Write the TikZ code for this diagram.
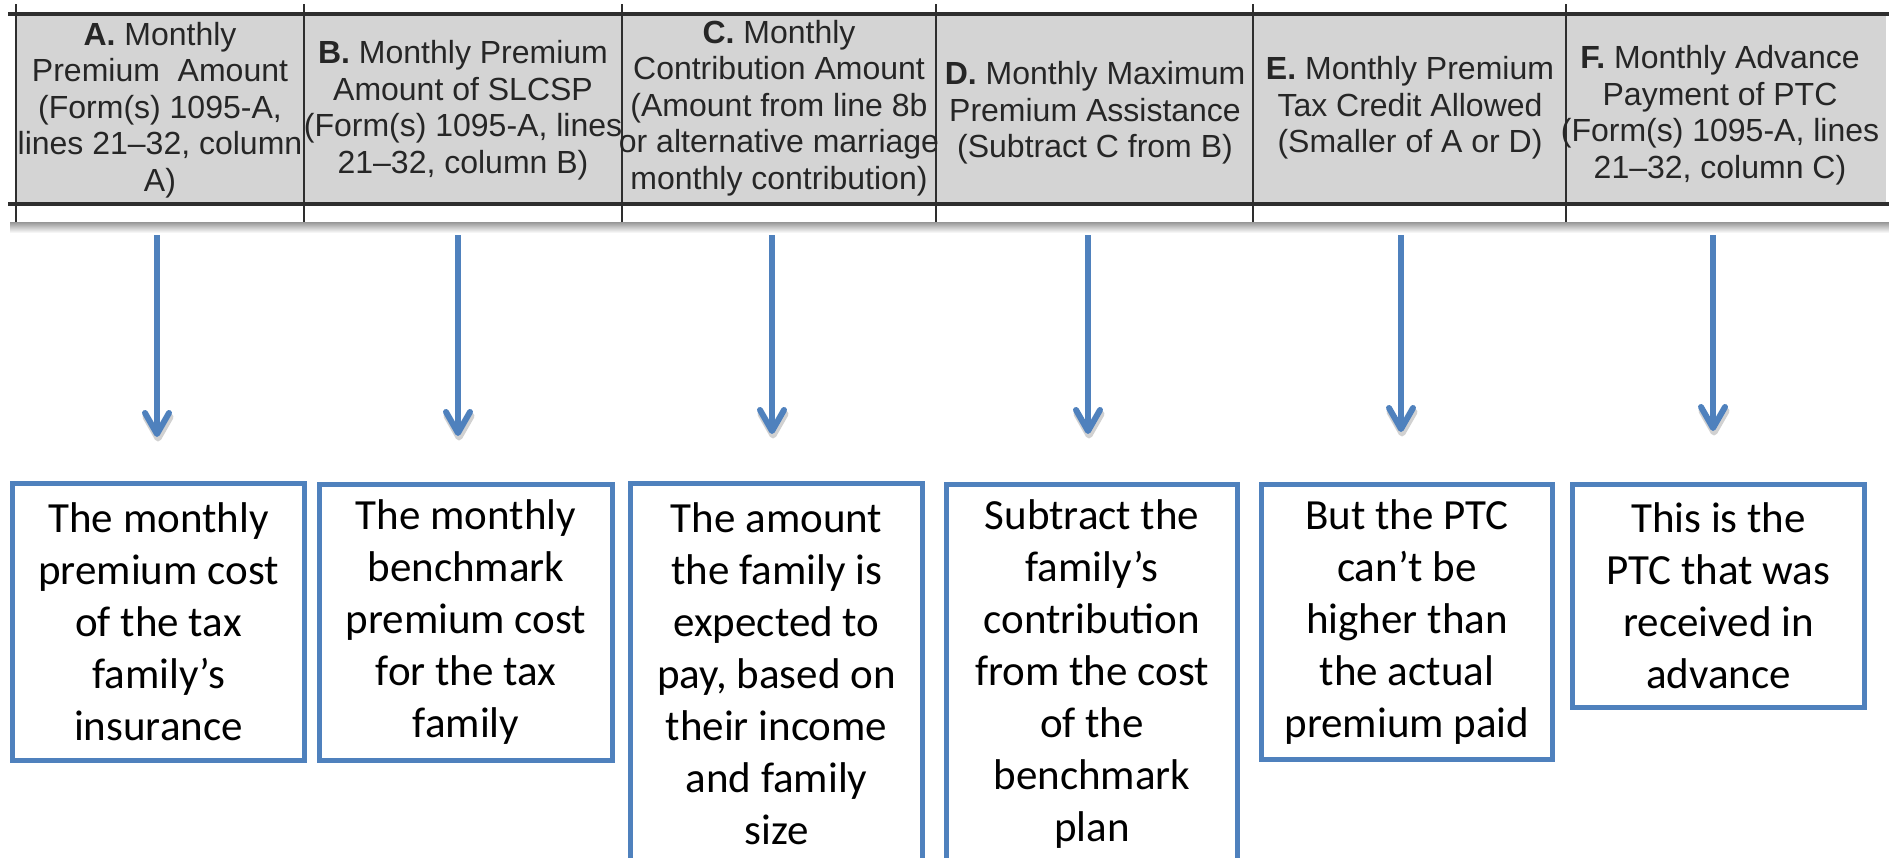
\documentclass[tikz,border=0pt]{standalone}
\usepackage{fontspec}
\setmainfont{Carlito}
\newfontfamily\hdrfont{Liberation Sans}
\usetikzlibrary{calc}
\definecolor{boxblue}{HTML}{4F81BD}
\definecolor{hdrgrey}{HTML}{D4D4D4}
\definecolor{hdrline}{HTML}{2E2E2E}
\definecolor{hdrtext}{HTML}{262626}
\begin{document}
\begin{tikzpicture}[x=1bp,y=-1bp,
  hdr/.style={font=\hdrfont\fontsize{32bp}{36.5bp}\selectfont, text=hdrtext, align=center, inner sep=0pt},
  tbox/.style={draw=boxblue, line width=5bp, fill=white, anchor=north west, align=center,
    font=\fontsize{43bp}{52bp}\selectfont, inner sep=0pt},
  arr/.style={draw=boxblue, line width=5.5bp},
  chev/.style={draw=boxblue, line width=6bp, line cap=round, line join=round},
  chevshadow/.style={draw=black, opacity=0.18, line width=7bp, line cap=round, line join=round}
]
\useasboundingbox (0,0) rectangle (1889,858);
\clip (0,0) rectangle (1889,858);
% table header (clipped form image)
\shade[top color=black!45, bottom color=white] (10,221) rectangle (1889,233);
\fill[white] (8,4) rectangle (1889,222);
\fill[hdrgrey] (16,15) rectangle (1886,204);
\draw[hdrline, line width=4bp] (8,14) -- (1889,14);
\draw[hdrline, line width=4bp] (8,204) -- (1889,204);
\foreach \x in {16,304,622,936,1253,1566}
  \draw[hdrline, line width=2.5bp] (\x,4) -- (\x,222);
\node[hdr] (hA) at (160,110) {\textbf{A.} Monthly\\Premium\ \ Amount\\(Form(s) 1095-A,\\lines 21–32, column\\A)};
\node[hdr] (hB) at (463,110) {\textbf{B.} Monthly Premium\\Amount of SLCSP\\(Form(s) 1095-A, lines\\21–32, column B)};
\node[hdr] (hC) at (779,108) {\textbf{C.} Monthly\\Contribution Amount\\(Amount from line 8b\\or alternative marriage\\monthly contribution)};
\node[hdr] (hD) at (1095,113) {\textbf{D.} Monthly Maximum\\Premium Assistance\\(Subtract C from B)};
\node[hdr] (hE) at (1410,108) {\textbf{E.} Monthly Premium\\Tax Credit Allowed\\(Smaller of A or D)};
\node[hdr] (hF) at (1720,115) {\textbf{F.} Monthly Advance\\Payment of PTC\\(Form(s) 1095-A, lines\\21–32, column C)};
% explanation boxes
\node[tbox, minimum width=292bp, minimum height=277bp] (bA) at (10,481)
  {The monthly\\premium cost\\of the tax\\family’s\\insurance};
\node[tbox, minimum width=293bp, minimum height=276bp] (bB) at (317,482)
  {The monthly\\benchmark\\premium cost\\for the tax\\family};
\node[tbox, minimum width=292bp, minimum height=380bp] (bC) at (628,481)
  {The amount\\the family is\\expected to\\pay, based on\\their income\\and family\\size};
\node[tbox, minimum width=291bp, minimum height=379bp] (bD) at (944,482)
  {Subtract the\\family’s\\contribution\\from the cost\\of the\\benchmark\\plan};
\node[tbox, minimum width=291bp, minimum height=275bp] (bE) at (1259,482)
  {But the PTC\\can’t be\\higher than\\the actual\\premium paid};
\node[tbox, minimum width=292bp, minimum height=223bp] (bF) at (1570,482)
  {This is the\\PTC that was\\received in\\advance};
% arrows
\coordinate (aA1) at (157,235); \coordinate (aA2) at (157,434);
\coordinate (aB1) at (458,235); \coordinate (aB2) at (458,433);
\coordinate (aC1) at (772,235); \coordinate (aC2) at (772,431);
\coordinate (aD1) at (1088,235); \coordinate (aD2) at (1088,431);
\coordinate (aE1) at (1401,235); \coordinate (aE2) at (1401,429);
\coordinate (aF1) at (1713,235); \coordinate (aF2) at (1713,428);
\foreach \n in {A,B,C,D,E,F}{
  \draw[chevshadow] ($(a\n2)+(-11,-17)$) -- ($(a\n2)+(1,4)$) -- ($(a\n2)+(13,-17)$);
  \draw[arr] (a\n1) -- ($(a\n2)+(0,-3)$);
  \draw[chev] ($(a\n2)+(-12,-21)$) -- (a\n2) -- ($(a\n2)+(12,-21)$);
}
\end{tikzpicture}
\end{document}
